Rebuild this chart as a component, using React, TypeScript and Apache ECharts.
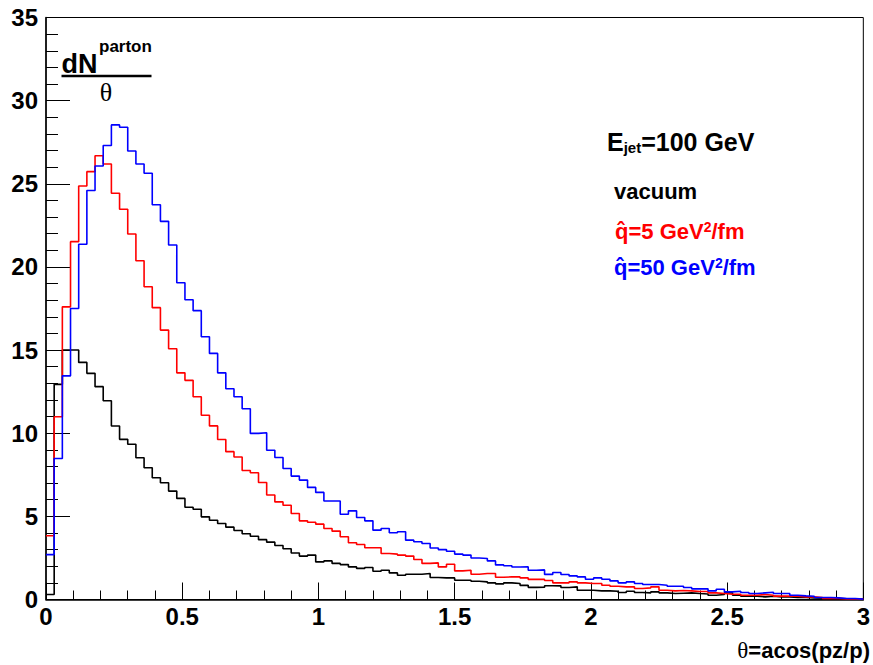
import React, { useEffect, useRef } from "react";
import * as echarts from "echarts";

// theta range and binning of the histograms
const thetaMin = 0;
const thetaMax = 3;

// vacuum (black)
const vacuum = [
  0.3, 12.94, 15.0, 15.0, 14.26, 13.6, 12.8, 11.95, 10.43, 9.63,
  9.34, 8.52, 7.92, 7.32, 7.02, 6.52, 6.08, 5.55, 5.43, 4.97,
  4.77, 4.57, 4.35, 4.15, 3.95, 3.8, 3.6, 3.45, 3.25, 3.05,
  2.8, 2.61, 2.67, 2.26, 2.32, 2.17, 2.1, 1.96, 1.87, 1.92,
  1.7, 1.76, 1.6, 1.46, 1.52, 1.52, 1.56, 1.32, 1.3, 1.3,
  1.16, 1.16, 1.1, 1.06, 1.0, 0.94, 1.0, 0.96, 0.85, 0.73,
  0.74, 0.83, 0.82, 0.72, 0.76, 0.56, 0.56, 0.52, 0.52, 0.5,
  0.42, 0.5, 0.42, 0.4, 0.46, 0.4, 0.36, 0.38, 0.4, 0.36,
  0.33, 0.26, 0.3, 0.4, 0.26, 0.2, 0.2, 0.16, 0.2, 0.16,
  0.16, 0.12, 0.12, 0.1, 0.08, 0.06, 0.06, 0.04, 0.04, 0.02,
];

// qhat = 5 GeV^2/fm (red)
const qhat5 = [
  3.83, 10.99, 17.6, 21.52, 24.87, 25.73, 26.69, 26.19, 24.43, 23.47,
  21.98, 20.37, 18.81, 17.55, 16.2, 15.08, 13.63, 13.18, 12.19, 11.08,
  10.44, 9.62, 8.89, 8.57, 7.76, 7.62, 7.04, 6.28, 5.87, 5.67,
  5.17, 4.73, 4.65, 4.53, 4.27, 4.11, 3.77, 3.41, 3.31, 3.11,
  3.11, 2.77, 2.73, 2.67, 2.61, 2.41, 2.17, 2.2, 1.96, 2.12,
  1.72, 1.76, 1.52, 1.56, 1.56, 1.34, 1.36, 1.36, 1.3, 1.21,
  1.21, 1.14, 1.0, 1.0, 1.06, 1.0, 0.96, 0.96, 0.86, 0.8,
  0.76, 0.76, 0.66, 0.7, 0.76, 0.56, 0.52, 0.54, 0.52, 0.48,
  0.48, 0.4, 0.36, 0.32, 0.32, 0.26, 0.26, 0.3, 0.26, 0.2,
  0.2, 0.2, 0.16, 0.16, 0.12, 0.06, 0.06, 0.04, 0.04, 0.02,
];

// qhat = 50 GeV^2/fm (blue)
const qhat50 = [
  2.7, 8.48, 13.45, 17.5, 21.36, 24.6, 26.07, 27.3, 28.54, 28.4,
  26.97, 26.19, 25.63, 23.74, 22.74, 21.32, 19.05, 18.03, 17.37, 15.8,
  14.8, 13.63, 12.67, 12.19, 11.47, 9.99, 10.03, 8.98, 8.54, 7.88,
  7.42, 7.18, 6.74, 6.44, 5.92, 5.92, 5.13, 5.33, 4.93, 4.73,
  4.17, 4.27, 4.01, 4.07, 3.57, 3.47, 3.37, 3.1, 3.0, 2.9,
  2.73, 2.67, 2.5, 2.47, 2.32, 2.08, 2.03, 1.95, 1.96, 1.76,
  1.78, 1.51, 1.62, 1.5, 1.42, 1.36, 1.22, 1.3, 1.22, 1.12,
  1.0, 1.06, 0.96, 0.9, 0.9, 0.86, 0.8, 0.8, 0.72, 0.64,
  0.64, 0.52, 0.62, 0.46, 0.5, 0.42, 0.36, 0.4, 0.44, 0.36,
  0.36, 0.26, 0.22, 0.2, 0.12, 0.12, 0.1, 0.06, 0.06, 0.02,
];

const seriesColors = ["#000000", "#ff0000", "#0000ff"];

function toSteps(vals: number[]): number[][] {
  const w = (thetaMax - thetaMin) / vals.length;
  const pts = vals.map((v, i) => [thetaMin + i * w, v]);
  pts.push([thetaMax, vals[vals.length - 1]]);
  return pts;
}

const SANS = '"Liberation Sans", Arial, Helvetica, sans-serif';
const SERIF = '"Liberation Serif", "Times New Roman", serif';

export default function App() {
  const ref = useRef<HTMLDivElement>(null);
  useEffect(() => {
    if (!ref.current) return;
    const chart = echarts.init(ref.current, undefined, { renderer: "svg" });
    const axisLabel = {
      color: "#000",
      fontFamily: SANS,
      fontWeight: "bold" as const,
      fontSize: 24,
    };
    const mkSeries = (name: string, vals: number[], color: string) => ({
      name,
      type: "line" as const,
      step: "end" as const,
      symbol: "none",
      data: toSteps(vals),
      lineStyle: { color, width: 1.6 },
      itemStyle: { color },
      clip: true,
    });
    chart.setOption({
      animation: false,
      backgroundColor: "#ffffff",
      grid: {
        left: 46,
        right: 5,
        top: 17.5,
        bottom: 65.5,
        show: true,
        borderColor: "#000",
        borderWidth: 1,
        backgroundColor: "transparent",
      },
      xAxis: {
        type: "value",
        min: 0,
        max: 3,
        interval: 0.5,
        axisLine: { show: true, onZero: false, lineStyle: { color: "#000", width: 1.5 } },
        axisTick: { show: true, inside: true, length: 17, lineStyle: { color: "#000", width: 1 } },
        minorTick: { show: true, splitNumber: 5, length: 9, lineStyle: { color: "#000", width: 1 } },
        splitLine: { show: false },
        minorSplitLine: { show: false },
        axisLabel: { ...axisLabel, margin: 5, showMinLabel: true, showMaxLabel: true },
      },
      yAxis: {
        type: "value",
        min: 0,
        max: 35,
        interval: 5,
        axisLine: { show: true, onZero: false, lineStyle: { color: "#000", width: 1.5 } },
        axisTick: { show: true, inside: true, length: 24, lineStyle: { color: "#000", width: 1 } },
        minorTick: { show: true, splitNumber: 5, length: 12, lineStyle: { color: "#000", width: 1 } },
        splitLine: { show: false },
        minorSplitLine: { show: false },
        axisLabel: { ...axisLabel, margin: 8, showMinLabel: true, showMaxLabel: true },
      },
      series: [
        mkSeries("vacuum", vacuum, seriesColors[0]),
        mkSeries("qhat5", qhat5, seriesColors[1]),
        mkSeries("qhat50", qhat50, seriesColors[2]),
      ],
      graphic: [
        {
          type: "text",
          x: 61.5,
          y: 63.5,
          style: {
            text: "dN",
            fill: "#000",
            font: `bold 27px ${SANS}`,
            align: "left",
            verticalAlign: "middle",
          },
        },
        {
          type: "text",
          x: 99,
          y: 46.5,
          style: {
            text: "parton",
            fill: "#000",
            font: `bold 17px ${SANS}`,
            align: "left",
            verticalAlign: "middle",
          },
        },
        {
          type: "line",
          shape: { x1: 61.5, y1: 76, x2: 151.5, y2: 76 },
          style: { stroke: "#000", lineWidth: 2.5 },
        },
        {
          type: "text",
          x: 106,
          y: 92,
          style: {
            text: "θ",
            fill: "#000",
            font: `26px ${SERIF}`,
            align: "center",
            verticalAlign: "middle",
          },
        },
        {
          type: "text",
          x: 607,
          y: 142,
          style: {
            text: "{m|E}{s|jet}{m|=100 GeV}",
            fill: "#000",
            align: "left",
            verticalAlign: "middle",
            rich: {
              m: { fontFamily: SANS, fontWeight: "bold", fontSize: 25, fill: "#000" },
              s: { fontFamily: SANS, fontWeight: "bold", fontSize: 15, fill: "#000", verticalAlign: "bottom", padding: [6, 0, 0, 0] },
            },
          },
        },
        {
          type: "text",
          x: 614,
          y: 191,
          style: {
            text: "vacuum",
            fill: "#000",
            font: `bold 22px ${SANS}`,
            align: "left",
            verticalAlign: "middle",
          },
        },
        {
          type: "text",
          x: 615,
          y: 231,
          style: {
            text: "{m|q\u0302=5 GeV}{p|2}{m|/fm}",
            fill: "#ff0000",
            align: "left",
            verticalAlign: "middle",
            rich: {
              m: { fontFamily: SANS, fontWeight: "bold", fontSize: 22, fill: "#ff0000" },
              p: { fontFamily: SANS, fontWeight: "bold", fontSize: 14, fill: "#ff0000", verticalAlign: "top", padding: [0, 0, 5, 0] },
            },
          },
        },
        {
          type: "text",
          x: 614,
          y: 267,
          style: {
            text: "{m|q\u0302=50 GeV}{p|2}{m|/fm}",
            fill: "#0000ff",
            align: "left",
            verticalAlign: "middle",
            rich: {
              m: { fontFamily: SANS, fontWeight: "bold", fontSize: 22, fill: "#0000ff" },
              p: { fontFamily: SANS, fontWeight: "bold", fontSize: 14, fill: "#0000ff", verticalAlign: "top", padding: [0, 0, 5, 0] },
            },
          },
        },
        {
          type: "text",
          x: 870,
          y: 650,
          style: {
            text: "{t|θ}{b|=acos(pz/p)}",
            fill: "#000",
            align: "right",
            verticalAlign: "middle",
            rich: {
              t: { fontFamily: SERIF, fontSize: 23, fill: "#000" },
              b: { fontFamily: SANS, fontWeight: "bold", fontSize: 22, fill: "#000" },
            },
          },
        },
      ],
    });
    return () => chart.dispose();
  }, []);
  return (
    <div
      ref={ref}
      style={{ position: "fixed", left: 0, top: 0, width: 873, height: 665, background: "#fff" }}
    />
  );
}
